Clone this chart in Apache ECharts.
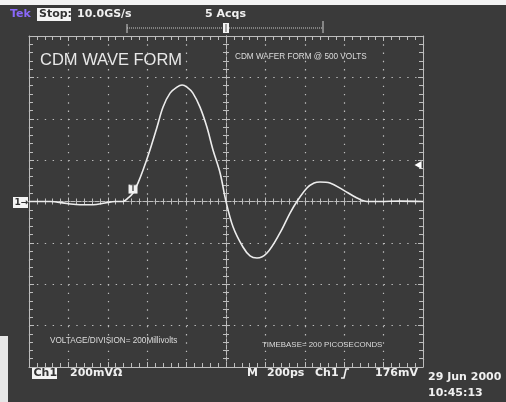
<!DOCTYPE html>
<html>
<head>
<meta charset="utf-8">
<script src="https://cdn.jsdelivr.net/npm/echarts@6/dist/echarts.min.js"></script>
<style>
  html, body { margin: 0; padding: 0; background: #3a3a3a; }
  #scope { width: 506px; height: 402px; }
</style>
</head>
<body>
<div id="scope"></div>
<script>
// CDM discharge waveform captured at 200 ps/div, 200 mV/div
const timePs = [-1000, -893, -807, -741, -675, -614, -563, -523, -497, -472, -447, -421, -386, -350, -320, -284, -249, -223, -198, -168, -132, -97, -66, -30, 0, 36, 86, 122, 157, 208, 274, 325, 360, 411, 447, 477, 528, 594, 665, 716, 782, 883, 1000];
const voltMv = [0, 0, -10, -16, -16, -7, 0, 0, 17, 41, 89, 152, 249, 360, 456, 524, 553, 563, 553, 524, 456, 360, 249, 138, 0, -123, -220, -263, -273, -249, -152, -56, 0, 65, 89, 94, 89, 56, 17, 0, 0, 2, 0];

// screen divisions
const timeRange = [-1000, 1000];   // ps, 10 divisions
const timeStep = 200;
const voltRange = [-800, 800];     // mV, 8 divisions
const voltStep = 200;

const triggerLevelMv = 176;
const triggerMark = [-472, 60];

const titleText = 'CDM WAVE FORM';
const noteText = 'CDM WAFER FORM @ 500 VOLTS';
const voltNote = 'VOLTAGE/DIVISION= 200Millivolts';
const timeNote = 'TIMEBASE= 200 PICOSECONDS';
const sampleRate = '10.0GS/s';
const acqCount = '5 Acqs';
const chScale = '200mV\u03A9';
const timeScale = '200ps';
const trigLevel = '176mV';
const dateText = '29 Jun 2000';
const clockText = '10:45:13';

const GRAT = '#bdbdbd';
const TEXT = '#f0f0f0';
const BOLD = 'bold 11px "DejaVu Sans"';

function xAx(pos, onZero, withGrid, tickLen) {
  return {
    type: 'value', min: timeRange[0], max: timeRange[1], interval: timeStep,
    position: pos,
    axisLine: { show: true, onZero: onZero,
      lineStyle: { color: GRAT, width: 1, type: onZero ? [4, 2] : 'solid' } },
    axisTick: { show: true, inside: true, length: tickLen + 1, lineStyle: { color: GRAT } },
    minorTick: { show: true, splitNumber: 5, length: tickLen, lineStyle: { color: GRAT } },
    axisLabel: { show: false },
    splitLine: { show: withGrid,
      lineStyle: { color: GRAT, width: 1.2, type: [1.4, 6.88] } }
  };
}
function yAx(pos, onZero, withGrid, tickLen) {
  return {
    type: 'value', min: voltRange[0], max: voltRange[1], interval: voltStep,
    position: pos,
    axisLine: { show: true, onZero: onZero,
      lineStyle: { color: GRAT, width: 1, type: onZero ? [4, 2] : 'solid' } },
    axisTick: { show: true, inside: true, length: tickLen + 1, lineStyle: { color: GRAT } },
    minorTick: { show: true, splitNumber: 5, length: tickLen, lineStyle: { color: GRAT } },
    axisLabel: { show: false },
    splitLine: { show: withGrid,
      lineStyle: { color: GRAT, width: 1.2, type: [1.4, 6.48] } }
  };
}

function txt(x, y, text, font, fill, align) {
  return { type: 'text', x: x, y: y, silent: true,
    style: { text: text, font: font, fill: fill || TEXT, align: align || 'left', verticalAlign: 'middle' } };
}
function box(x, y, w, h, fill) {
  return { type: 'rect', shape: { x: x, y: y, width: w, height: h }, style: { fill: fill || '#f4f4f4' }, silent: true };
}

const chart = echarts.init(document.getElementById('scope'), null, { renderer: 'canvas' });

chart.setOption({
  backgroundColor: '#3a3a3a',
  animation: false,
  grid: { left: 29, top: 36, width: 394, height: 331 },
  xAxis: [
    xAx('bottom', false, true, 4),
    xAx('top', false, false, 4),
    xAx('bottom', true, false, 3),
    xAx('top', true, false, 3)
  ],
  yAxis: [
    yAx('left', false, true, 4),
    yAx('right', false, false, 4),
    yAx('left', true, false, 3),
    yAx('right', true, false, 3)
  ],
  series: [{
    type: 'line',
    xAxisIndex: 0, yAxisIndex: 0,
    data: timePs.map((t, i) => [t, voltMv[i]]),
    smooth: 0.35,
    showSymbol: false,
    lineStyle: { color: '#ececec', width: 1.6 },
    markPoint: {
      silent: true,
      data: [
        { coord: triggerMark, symbol: 'rect', symbolSize: [9, 9],
          itemStyle: { color: '#f2f2f2' },
          label: { show: true, formatter: 'T', color: '#555', fontSize: 8, fontWeight: 'bold', fontFamily: 'DejaVu Sans' } },
        { coord: [975, triggerLevelMv], symbol: 'triangle', symbolSize: [8, 7], symbolRotate: 90,
          itemStyle: { color: '#ffffff' }, label: { show: false } }
      ]
    }
  }],
  graphic: [
    // scanner edge
    box(0, 0, 506, 5, '#f3f3f3'),
    box(0, 336, 8, 66, '#e6e6e6'),

    // top status line
    txt(10, 14, 'Tek', BOLD, '#8a68fa'),
    box(37, 8, 34, 13, '#f4f4f4'),
    txt(39, 14.5, 'Stop:', BOLD, '#333'),
    txt(77, 14, sampleRate, BOLD),
    txt(205, 14, acqCount, BOLD),

    // record view bar
    { type: 'line', silent: true, shape: { x1: 127, y1: 28, x2: 323, y2: 28 },
      style: { stroke: '#c8c8c8', lineWidth: 1, lineDash: [1, 1] } },
    { type: 'line', silent: true, shape: { x1: 127, y1: 24, x2: 127, y2: 33 }, style: { stroke: '#d0d0d0', lineWidth: 1 } },
    { type: 'line', silent: true, shape: { x1: 323, y1: 21, x2: 323, y2: 33 }, style: { stroke: '#d0d0d0', lineWidth: 1 } },
    box(223, 23, 6, 10, '#f4f4f4'),
    { type: 'line', silent: true, shape: { x1: 226, y1: 24, x2: 226, y2: 32 }, style: { stroke: '#555', lineWidth: 1 } },

    // annotations written on the screen
    txt(40, 60, titleText, '16.5px "Liberation Sans"', '#e8e8e8'),
    txt(235, 56.5, noteText, '8.2px "Liberation Sans"', '#dcdcdc'),
    txt(50, 341, voltNote, '8.2px "Liberation Sans"', '#dcdcdc'),
    txt(262, 345, timeNote, '7.9px "Liberation Sans"', '#dcdcdc'),

    // channel ground marker
    box(13, 197, 15, 11, '#f4f4f4'),
    txt(14.5, 202.5, '1\u2192', 'bold 9px "DejaVu Sans"', '#333'),

    // bottom status line
    box(32, 367, 25, 12, '#f4f4f4'),
    txt(33.5, 373.5, 'Ch1', BOLD, '#333'),
    txt(70, 373, chScale, BOLD),
    txt(247, 373, 'M', BOLD),
    txt(267, 373, timeScale, BOLD),
    txt(315, 373, 'Ch1', BOLD),
    { type: 'polyline', silent: true,
      shape: { points: [[341, 378], [344, 378], [346, 369], [349, 369]] },
      style: { stroke: TEXT, lineWidth: 1.6, fill: null } },
    txt(418, 373, trigLevel, BOLD, TEXT, 'right'),
    txt(428, 377, dateText, BOLD),
    txt(428, 393, clockText, BOLD)
  ]
});
</script>
</body>
</html>
